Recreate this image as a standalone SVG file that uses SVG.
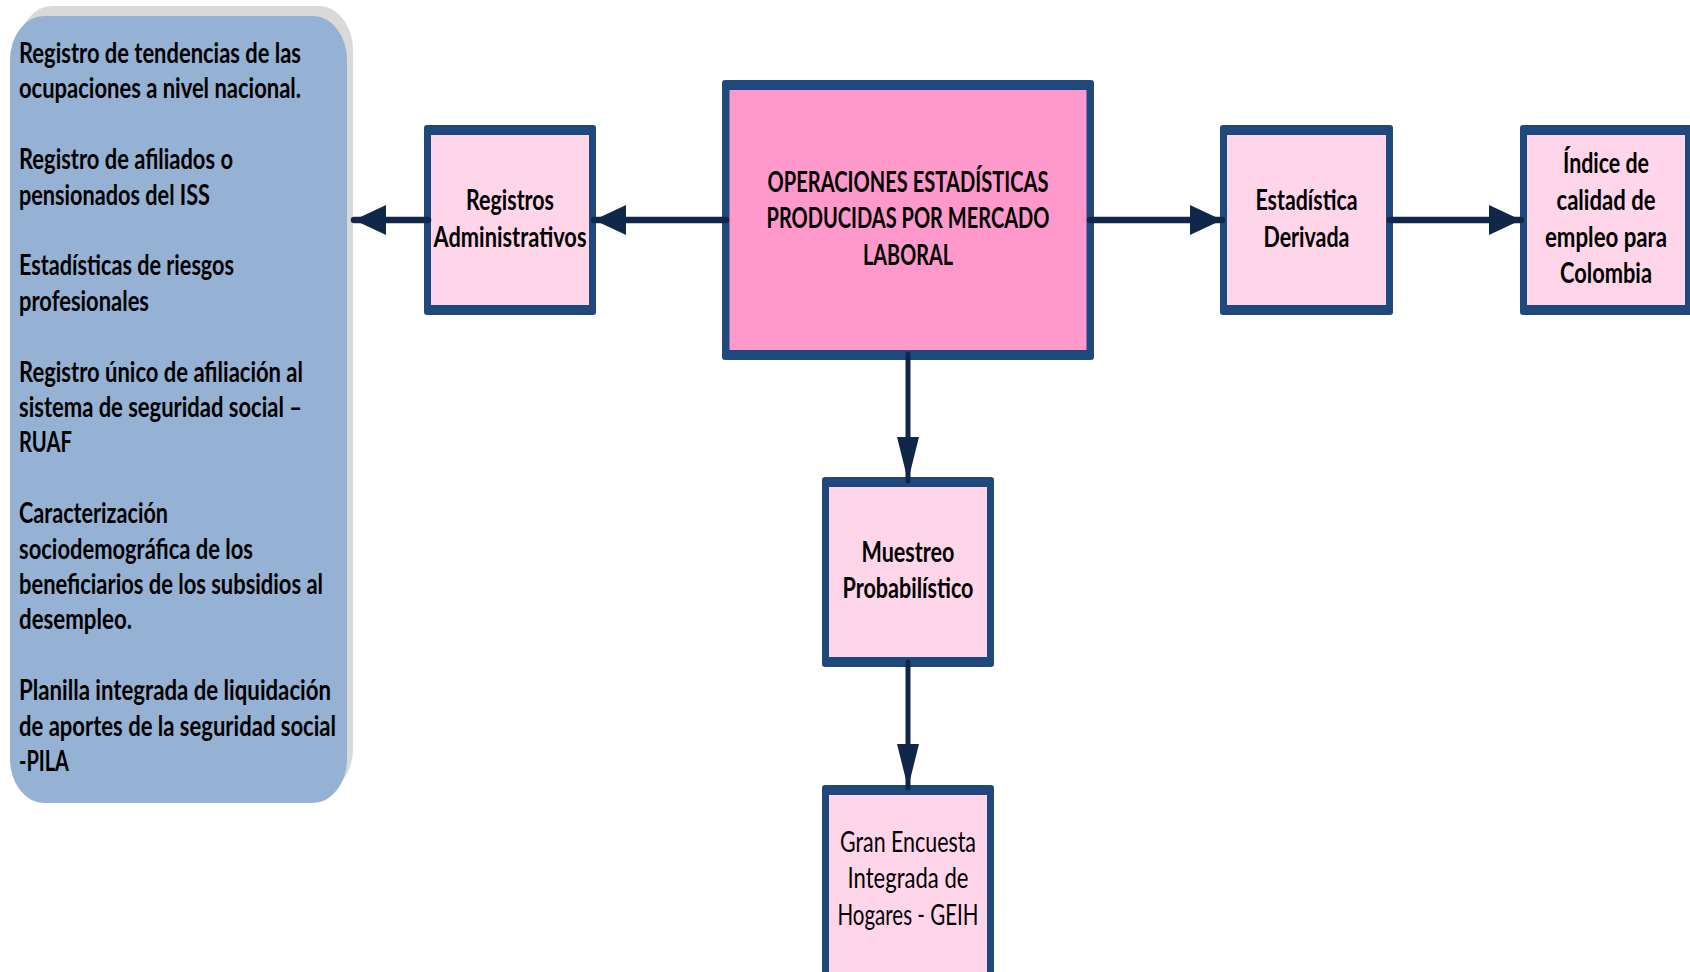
<svg xmlns="http://www.w3.org/2000/svg" width="1690" height="972" viewBox="0 0 1690 972">
<style>
.bg{fill:#ffffff}
.frame{fill:#1F497D}
.light{fill:#FFD5E9}
.dark{fill:#FF99CB}
.panel{fill:#95B1D3}
.shadow{fill:#D9D9D9}
.t{font-family:Lato,"Liberation Sans","DejaVu Sans",sans-serif;font-size:28px;font-weight:bold;fill:#000000}
.c{text-anchor:middle}
.r{font-weight:normal}
.h{stroke:#11274A;stroke-width:6.5;stroke-linecap:round;fill:none;marker-end:url(#ah)}
.v{stroke:#11274A;stroke-width:5;stroke-linecap:round;fill:none;marker-end:url(#av)}
</style>
<defs>
<marker id="ah" markerUnits="userSpaceOnUse" markerWidth="32" markerHeight="30" refX="32" refY="15" orient="auto" overflow="visible">
<path d="M0,0 L32,15 L0,30 Z" fill="#11274A"/>
</marker>
<marker id="av" markerUnits="userSpaceOnUse" markerWidth="44" markerHeight="22" refX="44" refY="11" orient="auto" overflow="visible">
<path d="M0,0 L44,11 L0,22 Z" fill="#11274A"/>
</marker>
</defs>
<rect class="bg" x="0" y="0" width="1690" height="972"/>

<g id="panel">
<rect class="shadow" x="18" y="6" width="335" height="787" rx="34" ry="44"/>
<rect class="panel" x="10" y="16" width="337" height="787" rx="34" ry="44"/>
<text class="t" x="19" y="63" textLength="282" lengthAdjust="spacingAndGlyphs">Registro de tendencias de las</text>
<text class="t" x="19" y="98.4" textLength="282" lengthAdjust="spacingAndGlyphs">ocupaciones a nivel nacional.</text>
<text class="t" x="19" y="169.2" textLength="214" lengthAdjust="spacingAndGlyphs">Registro de afiliados o</text>
<text class="t" x="19" y="204.6" textLength="191" lengthAdjust="spacingAndGlyphs">pensionados del ISS</text>
<text class="t" x="19" y="275.4" textLength="215" lengthAdjust="spacingAndGlyphs">Estadísticas de riesgos</text>
<text class="t" x="19" y="310.8" textLength="130" lengthAdjust="spacingAndGlyphs">profesionales</text>
<text class="t" x="19" y="381.6" textLength="284" lengthAdjust="spacingAndGlyphs">Registro único de afiliación al</text>
<text class="t" x="19" y="417" textLength="283" lengthAdjust="spacingAndGlyphs">sistema de seguridad social –</text>
<text class="t" x="19" y="452.4" textLength="53" lengthAdjust="spacingAndGlyphs">RUAF</text>
<text class="t" x="19" y="523.2" textLength="149" lengthAdjust="spacingAndGlyphs">Caracterización</text>
<text class="t" x="19" y="558.6" textLength="234" lengthAdjust="spacingAndGlyphs">sociodemográfica de los</text>
<text class="t" x="19" y="594" textLength="304" lengthAdjust="spacingAndGlyphs">beneficiarios de los subsidios al</text>
<text class="t" x="19" y="629.4" textLength="113" lengthAdjust="spacingAndGlyphs">desempleo.</text>
<text class="t" x="19" y="700.2" textLength="312" lengthAdjust="spacingAndGlyphs">Planilla integrada de liquidación</text>
<text class="t" x="19" y="735.6" textLength="317" lengthAdjust="spacingAndGlyphs">de aportes de la seguridad social</text>
<text class="t" x="19" y="771" textLength="50" lengthAdjust="spacingAndGlyphs">-PILA</text>
</g>

<g id="registros">
<rect class="frame" x="424" y="125" width="172" height="190" rx="3"/>
<rect class="light" x="431" y="135" width="158" height="170"/>
<text class="t c" x="510" y="210" textLength="88" lengthAdjust="spacingAndGlyphs">Registros</text>
<text class="t c" x="510" y="246.5" textLength="153" lengthAdjust="spacingAndGlyphs">Administrativos</text>
</g>

<g id="operaciones">
<rect class="frame" x="722" y="80" width="372" height="280" rx="3"/>
<rect class="dark" x="729.5" y="90" width="357" height="260"/>
<text class="t c" x="908" y="192" textLength="281" lengthAdjust="spacingAndGlyphs">OPERACIONES ESTADÍSTICAS</text>
<text class="t c" x="908" y="228" textLength="283" lengthAdjust="spacingAndGlyphs">PRODUCIDAS POR MERCADO</text>
<text class="t c" x="908" y="264.5" textLength="90" lengthAdjust="spacingAndGlyphs">LABORAL</text>
</g>

<g id="estadistica">
<rect class="frame" x="1220" y="125" width="173" height="190" rx="3"/>
<rect class="light" x="1227" y="135" width="159" height="170"/>
<text class="t c" x="1306.5" y="210" textLength="102" lengthAdjust="spacingAndGlyphs">Estadística</text>
<text class="t c" x="1306.5" y="247" textLength="86" lengthAdjust="spacingAndGlyphs">Derivada</text>
</g>

<g id="indice">
<rect class="frame" x="1520" y="125" width="172" height="190" rx="3"/>
<rect class="light" x="1527" y="135" width="158" height="170"/>
<text class="t c" x="1606" y="173.3" textLength="86" lengthAdjust="spacingAndGlyphs">Índice de</text>
<text class="t c" x="1606" y="210" textLength="99" lengthAdjust="spacingAndGlyphs">calidad de</text>
<text class="t c" x="1606" y="246.7" textLength="122" lengthAdjust="spacingAndGlyphs">empleo para</text>
<text class="t c" x="1606" y="283.3" textLength="92" lengthAdjust="spacingAndGlyphs">Colombia</text>
</g>

<g id="muestreo">
<rect class="frame" x="822" y="477" width="172" height="190" rx="3"/>
<rect class="light" x="829" y="487" width="158" height="170"/>
<text class="t c" x="908" y="561.5" textLength="93" lengthAdjust="spacingAndGlyphs">Muestreo</text>
<text class="t c" x="908" y="598" textLength="131" lengthAdjust="spacingAndGlyphs">Probabilístico</text>
</g>

<g id="geih">
<rect class="frame" x="822" y="785" width="172" height="200" rx="3"/>
<rect class="light" x="829" y="795" width="158" height="180"/>
<text class="t c r" x="908" y="851.5" textLength="136" lengthAdjust="spacingAndGlyphs">Gran Encuesta</text>
<text class="t c r" x="908" y="888" textLength="121" lengthAdjust="spacingAndGlyphs">Integrada de</text>
<text class="t c r" x="908" y="925" textLength="141" lengthAdjust="spacingAndGlyphs">Hogares - GEIH</text>
</g>

<g id="connectors">
<line class="h" x1="726" y1="220" x2="594" y2="220"/>
<line class="h" x1="428" y1="220" x2="354" y2="220"/>
<line class="h" x1="1090" y1="220" x2="1222" y2="220"/>
<line class="h" x1="1390" y1="220" x2="1521" y2="220"/>
<line class="v" x1="908" y1="354" x2="908" y2="481"/>
<line class="v" x1="908" y1="662" x2="908" y2="788"/>
</g>
</svg>
